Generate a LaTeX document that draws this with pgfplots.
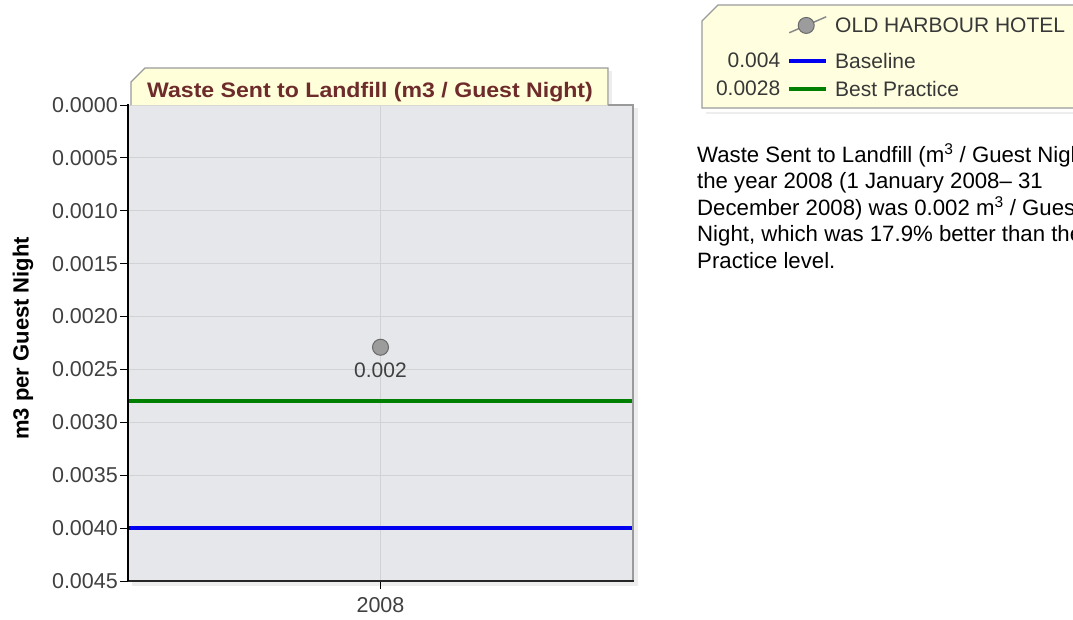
\documentclass[border=0pt]{standalone}
\usepackage{fontspec}
\setmainfont{Liberation Sans}
\usepackage{pgfplots}
\pgfplotsset{compat=1.18}

\definecolor{plotbg}{HTML}{E6E7EA}
\definecolor{gridc}{HTML}{D2D2D4}
\definecolor{tabfill}{HTML}{FFFFD9}
\definecolor{legfill}{HTML}{FFFFE0}
\definecolor{boxdraw}{HTML}{9A9A9A}
\definecolor{titlec}{HTML}{6E2B2B}
\definecolor{ticktext}{HTML}{404040}
\definecolor{legtext}{HTML}{383838}
\definecolor{legline}{HTML}{8A8A8A}
\definecolor{bgreen}{HTML}{008000}
\definecolor{bblue}{HTML}{0000F0}
\definecolor{ptfill}{HTML}{9C9C9C}
\definecolor{ptdraw}{HTML}{6A6A6A}
\definecolor{shadowc}{HTML}{EDEDED}

\newcommand{\fs}[1]{\fontsize{#1}{#1}\selectfont}

\pgfplotsset{
  ptlegend/.style={legend image code/.code={
    \draw[draw=legline, line width=1.5pt] (0pt,-7pt) -- (37pt,9pt);
    \path (0pt,-15.7pt);
    \draw[mark repeat=2, mark phase=2, ##1] plot coordinates {(0pt,0.35pt) (17pt,0.35pt) (34pt,0.35pt)};
  }},
  vallegend/.style={legend image code/.code={
    \draw[##1, line width=4pt] (0pt,0pt) -- (37pt,0pt);
    \node[anchor=east, inner sep=0pt, text=legtext, font=\fs{21}] at (-9pt,0pt) {#1};
  }},
}

\begin{document}
\begin{tikzpicture}
\path[use as bounding box] (0pt,0pt) rectangle (1073pt,-619pt);
\clip (0pt,0pt) rectangle (1073pt,-619pt);
\begin{scope}[x=1pt,y=-1pt]
 \fill[shadowc] (132,108) rectangle (638,586);
 \fill[shadowc] (706,112) rectangle (1090,114);
 \filldraw[fill=legfill, draw=boxdraw, line width=1.2pt] (702,108) -- (702,21) -- (718,5) -- (1090,5) -- (1090,108) -- cycle;
\end{scope}
\begin{axis}[
  at={(128pt,-581pt)}, anchor=south west,
  scale only axis, width=505pt, height=476pt,
  xmin=2007, xmax=2009, ymin=0, ymax=0.0045,
  y dir=reverse,
  xtick={2008}, xticklabels={2008},
  ytick={0,0.0005,0.001,0.0015,0.002,0.0025,0.003,0.0035,0.004,0.0045},
  scaled y ticks=false,
  yticklabel style={/pgf/number format/.cd, fixed, fixed zerofill, precision=4, assume math mode=true, /tikz/.cd, inner sep=0pt, xshift=-2pt},
  xticklabel style={inner sep=0pt, yshift=-8pt},
  ticklabel style={font=\fs{21.5}, text=ticktext},
  tick align=outside, major tick length=8pt,
  tick style={black, line width=1pt},
  xtick pos=left, xticklabel pos=left, ytick pos=left,
  grid=major, grid style={gridc, line width=1pt},
  axis background/.style={fill=plotbg},
  axis line style={draw=none},
  ylabel={m3 per Guest Night},
  every axis y label/.style={at={(axis description cs:-0.2079,0.51)}, rotate=90, anchor=center, font=\bfseries\fs{22}, text=black},
  legend style={at={(1.16436,1.18697)}, anchor=north west, draw=none, fill=none,
    font=\fs{21}, text=legtext, row sep=11.2pt, column sep=7pt, inner sep=0pt, outer sep=0pt,
    nodes={inner sep=0pt, text=legtext}},
  legend cell align=left,
]
\addplot[only marks, mark=*, mark size=8pt, mark options={fill=ptfill, draw=ptdraw, line width=1pt},
  point meta=explicit symbolic, nodes near coords,
  nodes near coords style={anchor=north, yshift=-12pt, font=\fs{21}, text=ticktext},
  ptlegend] coordinates {(2008,0.00229) [0.002]};
\addlegendentry{OLD HARBOUR HOTEL}
\addplot[bblue, line width=3.4pt, vallegend=0.004] coordinates {(2007,0.004) (2009,0.004)};
\addlegendentry{Baseline}
\addplot[bgreen, line width=3.4pt, vallegend=0.0028] coordinates {(2007,0.0028) (2009,0.0028)};
\addlegendentry{Best Practice}
\end{axis}
\begin{scope}[x=1pt,y=-1pt]
 \draw[boxdraw, line width=1.5pt] (608,105) -- (633,105) -- (633,581);
 \draw[black!85, line width=1.8pt] (128,581) -- (633.75,581);
 \draw[black, line width=1.2pt] (128,104) -- (128,581);
 \fill[shadowc] (609,71) rectangle (612,104);
 \filldraw[fill=tabfill, draw=boxdraw, line width=1.2pt] (131,105) -- (131,82) -- (145,68) -- (608,68) -- (608,105);
 \node[font=\bfseries\fs{21}, text=titlec, inner sep=0pt, anchor=base] at (370,97.5) {\scalebox{1.1}[1]{Waste Sent to Landfill (m3 / Guest Night)}};
 \begin{scope}[every node/.style={anchor=base west, inner sep=0pt, font=\fs{22.2}, text=black}]
  \node at (697,162) {Waste Sent to Landfill (m\textsuperscript{3} / Guest Night) for};
  \node at (697,188.5) {the year 2008 (1 January 2008– 31};
  \node at (697,215) {December 2008) was 0.002 m\textsuperscript{3} / Guest};
  \node at (697,241.5) {Night, which was 17.9\% better than the Best};
  \node at (697,268) {Practice level.};
 \end{scope}
\end{scope}
\end{tikzpicture}
\end{document}
